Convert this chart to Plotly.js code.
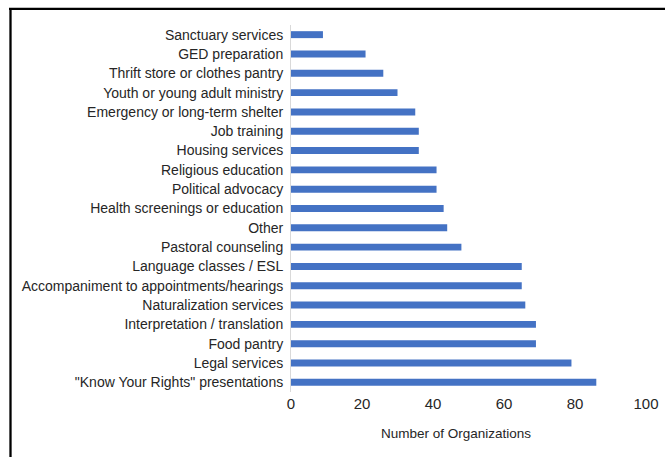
<!DOCTYPE html>
<html>
<head>
<meta charset="utf-8">
<script src="https://cdn.plot.ly/plotly-3.0.1.min.js"></script>
<style>
html,body{margin:0;padding:0;background:#fff;}
#chart{width:665px;height:457px;}
</style>
</head>
<body>
<div id="chart"></div>
<script>
// Categories listed bottom to top
const categories = [
  '"Know Your Rights" presentations',
  'Legal services',
  'Food pantry',
  'Interpretation / translation',
  'Naturalization services',
  'Accompaniment to appointments/hearings',
  'Language classes / ESL',
  'Pastoral counseling',
  'Other',
  'Health screenings or education',
  'Political advocacy',
  'Religious education',
  'Housing services',
  'Job training',
  'Emergency or long-term shelter',
  'Youth or young adult ministry',
  'Thrift store or clothes pantry',
  'GED preparation',
  'Sanctuary services'
];
const counts = [86, 79, 69, 69, 66, 65, 65, 48, 44, 43, 41, 41, 36, 36, 35, 30, 26, 21, 9];
const xTicks = [0, 20, 40, 60, 80, 100];
const xTitle = 'Number of Organizations';

// pixel layout helpers
const W = 665, H = 457;
const L = 291, R = 646, T = 25, B = 392;
const px = x => (x - L) / (R - L);
const py = y => (B - y) / (B - T);

const trace = {
  type: 'bar',
  orientation: 'h',
  x: counts,
  y: categories,
  marker: {color: '#4472C4'},
  width: 0.36,
  hoverinfo: 'x+y'
};

const layout = {
  width: W, height: H,
  margin: {l: L, r: W - R, t: T, b: H - B, pad: 0},
  paper_bgcolor: '#ffffff',
  plot_bgcolor: '#ffffff',
  showlegend: false,
  font: {family: 'Liberation Sans, Arial, sans-serif', color: '#262626'},
  xaxis: {
    range: [0, 100],
    tickvals: xTicks,
    ticktext: xTicks.map(String),
    showgrid: false,
    zeroline: false,
    showline: false,
    ticks: '',
    tickfont: {size: 15, color: '#262626'},
    ticklabelstandoff: 1,
    fixedrange: true
  },
  yaxis: {
    type: 'category',
    categoryorder: 'array',
    categoryarray: categories,
    range: [-0.5, categories.length - 0.5],
    showgrid: false,
    zeroline: false,
    showline: true,
    linecolor: '#d9d9d9',
    linewidth: 1,
    ticks: '',
    ticklen: 0,
    ticklabelstandoff: 4,
    tickfont: {size: 14, color: '#262626'},
    automargin: false,
    fixedrange: true
  },
  annotations: [{
    text: xTitle,
    xref: 'paper', yref: 'paper',
    x: px(456), y: py(434),
    xanchor: 'center', yanchor: 'middle',
    showarrow: false,
    font: {size: 13.5, color: '#262626'}
  }],
  shapes: [
    {type: 'line', xref: 'paper', yref: 'paper',
     x0: px(9), x1: px(666), y0: py(8.8), y1: py(8.8),
     line: {color: '#000000', width: 2.3}},
    {type: 'line', xref: 'paper', yref: 'paper',
     x0: px(10.5), x1: px(10.5), y0: py(8), y1: py(458),
     line: {color: '#000000', width: 2.3}}
  ],
  bargap: 0.64
};

Plotly.newPlot('chart', [trace], layout, {displayModeBar: false, staticPlot: true});
</script>
</body>
</html>
